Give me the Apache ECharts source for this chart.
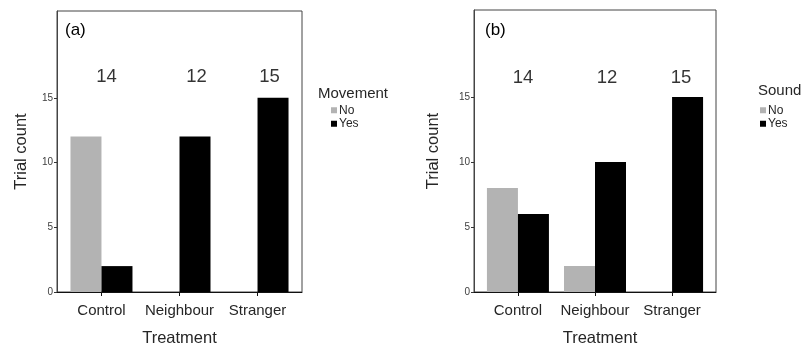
<!DOCTYPE html>
<html>
<head>
<meta charset="utf-8">
<script src="https://cdn.jsdelivr.net/npm/echarts@6/dist/echarts.min.js"></script>
<style>
html,body{margin:0;padding:0;background:#fff;}
#chart{width:806px;height:347px;}
</style>
</head>
<body>
<div id="chart"></div>
<script>
// ---- data ----
const categories = ['Control', 'Neighbour', 'Stranger'];
const seriesNames = ['No', 'Yes'];
const movementNo = [12, 0, 0];
const movementYes = [2, 12, 15];
const soundNo = [8, 2, 0];
const soundYes = [6, 10, 15];
const totalsA = [14, 12, 15];
const totalsB = [14, 12, 15];
const yTicks = [0, 5, 10, 15];
const panelLabels = ['(a)', '(b)'];
const legendTitles = ['Movement', 'Sound'];

// ---- styling / layout ----
const FONT = '"Liberation Sans", Arial, sans-serif';
const GREY = '#b3b3b3';
const BLACK = '#000000';
const TEXT = '#262626';
const catIdx = categories.map((c, i) => i + 1);

function xAxisFor(gridIndex, namePad) {
  return {
    type: 'value', gridIndex: gridIndex, min: 0.43, max: 3.57,
    name: 'Treatment', nameLocation: 'middle', nameGap: 38,
    nameTextStyle: { fontFamily: FONT, fontSize: 16.5, color: TEXT, padding: namePad },
    axisLine: { show: true, onZero: false, lineStyle: { color: '#111', width: 1 } },
    axisTick: { show: true, length: 4, customValues: catIdx, lineStyle: { color: '#111' } },
    axisLabel: { show: true, customValues: catIdx, margin: 11, fontFamily: FONT, fontSize: 15, color: TEXT,
      formatter: v => categories[Math.round(v) - 1] || '' },
    splitLine: { show: false }
  };
}
function yAxisFor(gridIndex, gap) {
  return {
    type: 'value', gridIndex: gridIndex, min: 0, max: 21.7,
    name: 'Trial count', nameLocation: 'middle', nameGap: gap, nameRotate: 90,
    nameTextStyle: { fontFamily: FONT, fontSize: 16.5, color: TEXT },
    axisLine: { show: true, lineStyle: { color: '#444', width: 1 } },
    axisTick: { show: true, length: 3, customValues: yTicks, lineStyle: { color: '#333' } },
    axisLabel: { show: true, customValues: yTicks, margin: 4, fontFamily: FONT, fontSize: 10, color: '#404040' },
    splitLine: { show: false }
  };
}
function barSeries(name, vals, axisIdx, color) {
  return {
    type: 'bar', name: name, xAxisIndex: axisIdx, yAxisIndex: axisIdx,
    data: vals.map((v, i) => [catIdx[i], v]),
    barWidth: 31, barGap: '0%',
    itemStyle: { color: color },
    emphasis: { disabled: true }
  };
}
function totalSeries(totals, axisIdx, shifts, yPos) {
  return {
    type: 'scatter', xAxisIndex: axisIdx, yAxisIndex: axisIdx,
    symbolSize: 1, itemStyle: { color: 'rgba(0,0,0,0)' },
    data: totals.map((t, i) => ({ value: [catIdx[i], yPos, t], label: { offset: [shifts[i], 0] } })),
    label: { show: true, position: 'inside', formatter: p => String(p.value[2]),
      fontFamily: FONT, fontSize: 18.5, color: '#000' },
    emphasis: { disabled: true }, silent: true
  };
}
function legendFor(left, top) {
  return {
    data: seriesNames, orient: 'vertical', left: left, top: top, padding: 0,
    icon: 'rect', itemWidth: 6, itemHeight: 6, itemGap: 1,
    selectedMode: false,
    textStyle: { fontFamily: FONT, fontSize: 12, color: TEXT, padding: [0, 0, 0, -3], lineHeight: 12.5 }
  };
}

const option = {
  animation: false,
  title: [
    { text: panelLabels[0], left: 65, top: 22, padding: 0, textStyle: { fontFamily: FONT, fontSize: 17, fontWeight: 'normal', color: '#000' } },
    { text: panelLabels[1], left: 485, top: 22, padding: 0, textStyle: { fontFamily: FONT, fontSize: 17, fontWeight: 'normal', color: '#000' } },
    { text: legendTitles[0], left: 318, top: 86, padding: 0, textStyle: { fontFamily: FONT, fontSize: 15, fontWeight: 'normal', color: TEXT } },
    { text: legendTitles[1], left: 758, top: 83, padding: 0, textStyle: { fontFamily: FONT, fontSize: 15, fontWeight: 'normal', color: TEXT } }
  ],
  legend: [legendFor(331, 104), legendFor(760, 104)],
  grid: [
    { left: 57, top: 11, width: 245, height: 281, show: true, borderColor: '#444', borderWidth: 1, backgroundColor: '#fff', outerBoundsMode: 'none', containLabel: false },
    { left: 474, top: 10, width: 242, height: 282, show: true, borderColor: '#444', borderWidth: 1, backgroundColor: '#fff', outerBoundsMode: 'none', containLabel: false }
  ],
  xAxis: [xAxisFor(0, [0, 0, 0, 0]), xAxisFor(1, [0, 0, 0, 10])],
  yAxis: [yAxisFor(0, 27), yAxisFor(1, 32)],
  series: [
    barSeries(seriesNames[0], movementNo, 0, GREY),
    barSeries(seriesNames[1], movementYes, 0, BLACK),
    barSeries(seriesNames[0], soundNo, 1, GREY),
    barSeries(seriesNames[1], soundYes, 1, BLACK),
    totalSeries(totalsA, 0, [5, 17, 12], 16.6),
    totalSeries(totalsB, 1, [5, 12, 9], 16.5)
  ]
};
const chart = echarts.init(document.getElementById('chart'), null, { renderer: 'canvas' });
chart.setOption(option);
</script>
</body>
</html>
